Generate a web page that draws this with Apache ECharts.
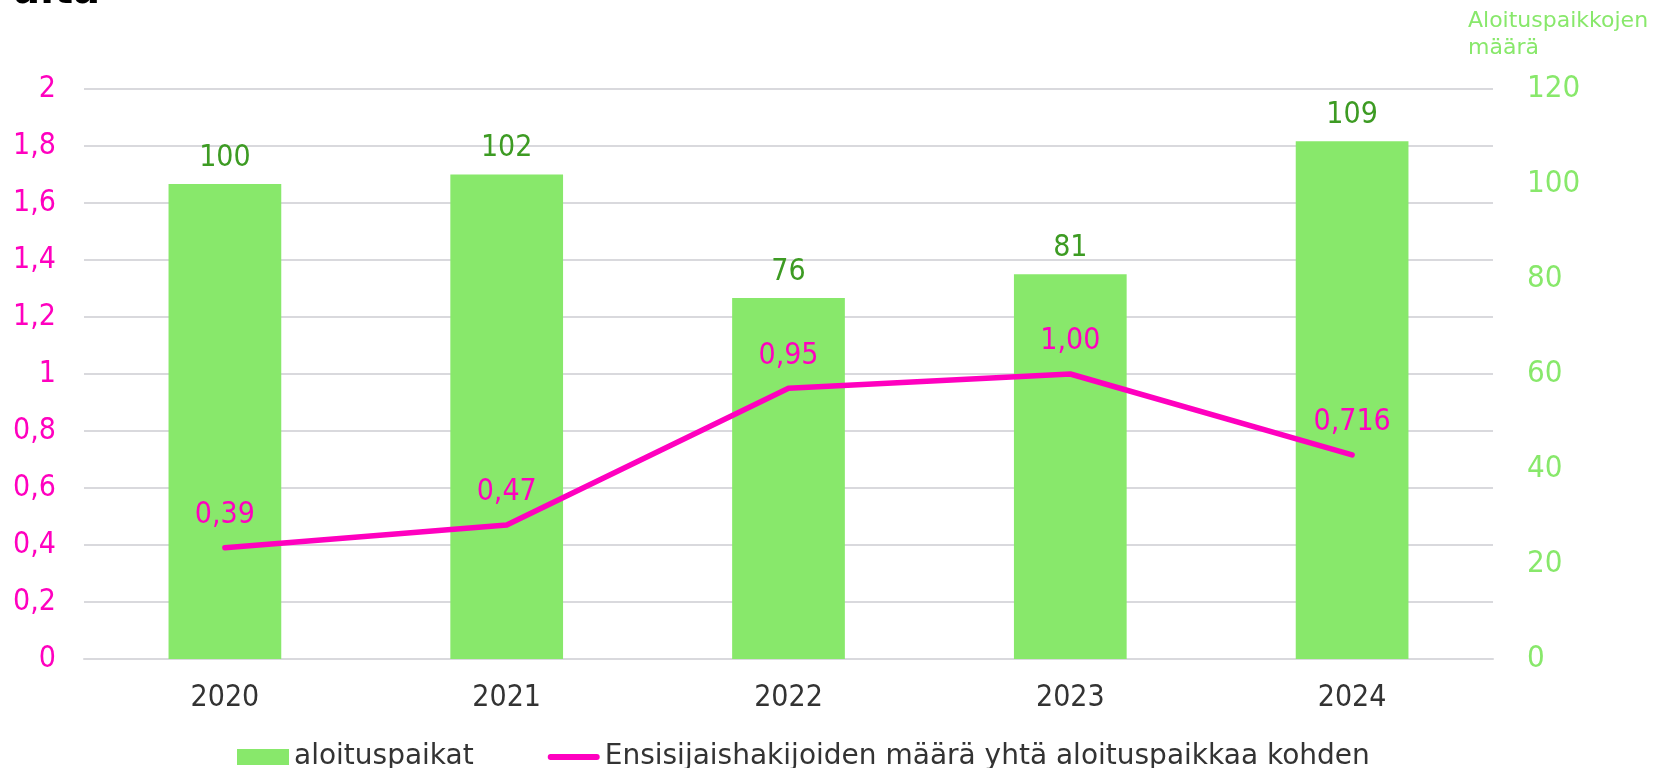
<!DOCTYPE html>
<html>
<head>
<meta charset="utf-8">
<script src="https://cdn.jsdelivr.net/npm/echarts@6/dist/echarts.min.js"></script>
<style>
  html, body { margin: 0; padding: 0; background: #ffffff; }
  #chart { width: 1654px; height: 768px; }
</style>
</head>
<body>
<div id="chart"></div>
<script>
// Aloituspaikat ja ensisijaishakijat per aloituspaikka, 2020–2024
const years = ['2020', '2021', '2022', '2023', '2024'];
const aloituspaikat = [100, 102, 76, 81, 109];
const hakijatPerPaikka = [0.39, 0.47, 0.95, 1.00, 0.716];

const barName = 'aloituspaikat';
const lineName = 'Ensisijaishakijoiden määrä yhtä aloituspaikkaa kohden';
const rightAxisName = 'Aloituspaikkojen\nmäärä';

const FONT = "'DejaVu Sans', Verdana, sans-serif";
const FONT_C = "'DejaVu Sans Condensed', 'DejaVu Sans', Verdana, sans-serif";
const GREEN = '#88e86b';
const DARK_GREEN = '#3d9b23';
const MAGENTA = '#ff00bf';
const GRID_GRAY = '#d9d9dd';

// Finnish decimal comma, at least two decimals
function fiNumber(v) {
  let s = v.toFixed(2);
  if (Math.abs(parseFloat(s) - v) > 1e-9) s = String(v);
  return s.replace('.', ',');
}
function fiAxis(v) {
  return String(Math.round(v * 10) / 10).replace('.', ',');
}

const chart = echarts.init(document.getElementById('chart'), null, { renderer: 'canvas' });

chart.setOption({
  animation: false,
  backgroundColor: '#ffffff',
  textStyle: { fontFamily: FONT },
  graphic: [{
    type: 'text',
    x: 100,
    y: 13,
    style: {
      text: 'uita',
      fontFamily: FONT,
      fontWeight: 'bold',
      fontSize: 40,
      fill: '#000000',
      align: 'right',
      verticalAlign: 'bottom'
    }
  }],
  grid: { left: 84, right: 161, top: 89, bottom: 109, containLabel: false, outerBoundsMode: 'none' },
  legend: {
    left: 232,
    top: 738,
    itemWidth: 52,
    itemHeight: 16,
    itemGap: 74,
    textStyle: { fontFamily: FONT, fontSize: 28, color: '#333333' },
    data: [
      { name: barName, icon: 'rect' },
      { name: lineName, icon: 'path://M3,0 H51 A3,3 0 0 1 51,6 H3 A3,3 0 0 1 3,0 Z', itemStyle: { color: MAGENTA } }
    ]
  },
  xAxis: {
    type: 'category',
    data: years,
    axisLine: { show: true, lineStyle: { color: GRID_GRAY, width: 2 } },
    axisTick: { show: false },
    axisLabel: { color: '#333333', fontSize: 30, fontFamily: FONT_C, margin: 24 }
  },
  yAxis: [
    {
      type: 'value',
      min: 0, max: 2, interval: 0.2,
      position: 'left',
      axisLine: { show: false },
      axisTick: { show: false },
      splitLine: { show: true, lineStyle: { color: GRID_GRAY, width: 2 } },
      axisLabel: { color: MAGENTA, fontSize: 30, fontFamily: FONT_C, margin: 28, formatter: fiAxis }
    },
    {
      type: 'value',
      min: 0, max: 120, interval: 20,
      position: 'right',
      name: rightAxisName,
      nameLocation: 'end',
      nameGap: 0,
      nameTextStyle: {
        color: GREEN, fontSize: 22, fontFamily: FONT, lineHeight: 27,
        align: 'left', verticalAlign: 'bottom', padding: [0, 0, 12, -25]
      },
      axisLine: { show: false },
      axisTick: { show: false },
      splitLine: { show: false },
      axisLabel: { color: GREEN, fontSize: 31, fontFamily: FONT_C, margin: 34 }
    }
  ],
  series: [
    {
      name: barName,
      type: 'bar',
      yAxisIndex: 1,
      data: aloituspaikat,
      barWidth: '40%',
      itemStyle: { color: GREEN },
      label: {
        show: true, position: 'top', distance: 11,
        color: DARK_GREEN, fontSize: 30, fontFamily: FONT_C
      },
      z: 2
    },
    {
      name: lineName,
      type: 'line',
      yAxisIndex: 0,
      data: hakijatPerPaikka,
      symbol: 'circle',
      symbolSize: 1,
      showSymbol: true,
      lineStyle: { color: MAGENTA, width: 5.5, cap: 'round', join: 'round' },
      itemStyle: { color: MAGENTA },
      label: {
        show: true, position: 'top', distance: 17,
        color: MAGENTA, fontSize: 30, fontFamily: FONT_C,
        formatter: p => fiNumber(p.value)
      },
      z: 3
    }
  ]
});
</script>
</body>
</html>
